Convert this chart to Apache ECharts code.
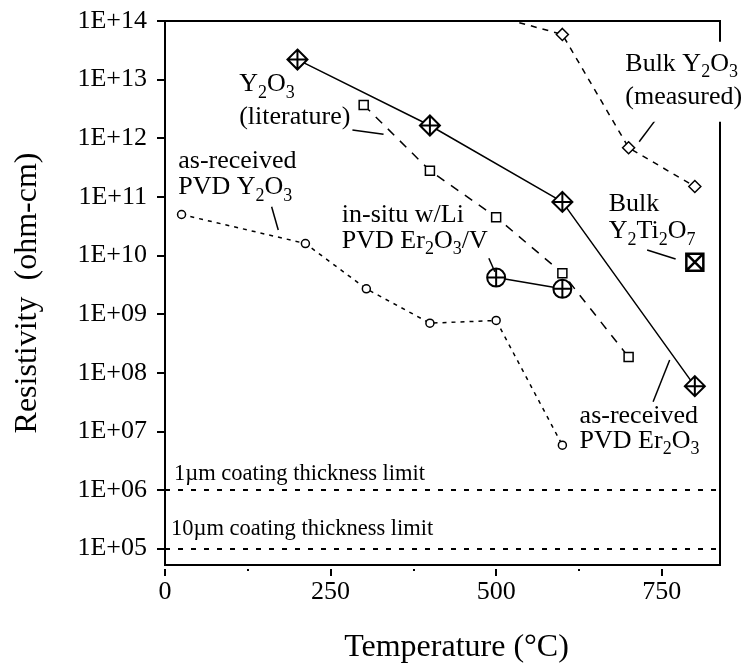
<!DOCTYPE html>
<html>
<head>
<meta charset="utf-8">
<script src="https://cdn.jsdelivr.net/npm/echarts@6/dist/echarts.min.js"></script>
<style>
  html, body { margin: 0; padding: 0; background: #fff; }
  #chart { width: 746px; height: 666px; }
</style>
</head>
<body>
<div id="chart"></div>
<script>
// Electrical resistivity (ohm-cm) of oxide coatings and bulk ceramics vs temperature (°C)
const pvdY2O3 = [[25, 5.0e10], [212, 1.6e10], [304, 2.7e9], [400, 7.0e8], [500, 7.8e8], [600, 5.8e6]];
const y2o3Literature = [[300, 3.7e12], [400, 2.8e11], [500, 4.5e10], [600, 5.0e9], [700, 1.85e8]];
const pvdEr2O3 = [[200, 2.2e13], [400, 1.65e12], [600, 8.2e10], [800, 5.9e7]];
const bulkY2O3 = [[500, 1.2e14], [600, 5.9e13], [700, 6.9e11], [800, 1.5e11]];
const inSituEr2O3 = [[500, 4.2e9], [600, 2.7e9]];
const bulkY2Ti2O7 = [[800, 7.7e9]];
const coatingLimits = [1e6, 1e5];

const xTicks = [0, 250, 500, 750];
const xMinorTicks = [125, 375, 625];
const yTicks = [1e5, 1e6, 1e7, 1e8, 1e9, 1e10, 1e11, 1e12, 1e13, 1e14];

// Annotation text: "_n" marks a subscript digit
const notes = [
  { at: [112, 5.85e12], lines: ['Y_2O_3', '(literature)'], step: 33 },
  { at: [20, 2.82e11], lines: ['as-received', 'PVD Y_2O_3'], step: 26 },
  { at: [267, 3.44e10], lines: ['in-situ w/Li', 'PVD Er_2O_3/V'], step: 26 },
  { at: [695, 1.31e13], lines: ['Bulk Y_2O_3', '(measured)'], step: 33, backdrop: true },
  { at: [670, 5.25e10], lines: ['Bulk', 'Y_2Ti_2O_7'], step: 27 },
  { at: [626, 1.28e7], lines: ['as-received', 'PVD Er_2O_3'], step: 25 },
  { at: [13.6, 1.39e6], lines: ['1µm coating thickness limit'], step: 0, small: true },
  { at: [9, 1.6e5], lines: ['10µm coating thickness limit'], step: 0, small: true }
];

// Leader lines from labels to curves
const leaders = [
  [[283, 1.38e12], [330, 1.17e12]],
  [[161, 6.8e10], [171, 2.72e10]],
  [[489, 8.95e9], [498, 5.28e9]],
  [[750, 2.84e12], [716, 8.73e11]],
  [[728, 1.24e10], [771, 8.7e9]],
  [[737, 3.2e7], [762, 1.65e8]]
];

const SERIF = 'Liberation Serif';
const BLACK = '#000';

const CROSS_DIAMOND = 'path://M10,0L20,10L10,20L0,10ZM10,0L10,20M0,10L20,10';
const CROSS_CIRCLE = 'path://M10,0A10,10,0,1,1,10,20A10,10,0,1,1,10,0ZM10,0L10,20M0,10L20,10';
const X_BOX = 'path://M0,0L20,0L20,20L0,20ZM0,0L20,20M20,0L0,20';

function lineSeries(name, data, symbol, size, border, lineType) {
  return {
    name, type: 'line', data,
    symbol, symbolSize: size, showSymbol: true,
    itemStyle: { color: '#fff', borderColor: BLACK, borderWidth: border },
    lineStyle: lineType === 'none' ? { width: 0, opacity: 0 } : { color: BLACK, width: 1.5, type: lineType },
    emphasis: { disabled: true },
    clip: true,
    z: 3
  };
}

function expLabel(v) {
  const e = Math.round(Math.log10(v));
  return '1E+' + (e < 10 ? '0' + e : String(e));
}

const chart = echarts.init(document.getElementById('chart'), null, { renderer: 'canvas' });

chart.setOption({
  animation: false,
  backgroundColor: '#fff',
  grid: {
    left: 165, top: 21, width: 555, height: 544,
    outerBoundsMode: 'none', containLabel: false,
    show: true, borderColor: BLACK, borderWidth: 2, backgroundColor: 'transparent'
  },
  xAxis: [
    {
      type: 'value', min: 0, max: 838, interval: 250, offset: 4,
      axisLine: { show: false },
      axisTick: { show: true, length: 7, customValues: xTicks, lineStyle: { color: BLACK, width: 2 } },
      axisLabel: { customValues: xTicks, fontFamily: SERIF, fontSize: 26, color: BLACK, margin: 10 },
      splitLine: { show: false },
      name: 'Temperature (°C)', nameLocation: 'middle', nameGap: 63,
      nameTextStyle: { fontFamily: SERIF, fontSize: 32, color: BLACK, padding: [0, 0, 0, 28] }
    },
    {
      type: 'value', min: 0, max: 838, interval: 250, offset: 4, position: 'bottom',
      axisLine: { show: false },
      axisTick: { show: true, length: 2, customValues: xMinorTicks, lineStyle: { color: BLACK, width: 2 } },
      axisLabel: { show: false },
      splitLine: { show: false }
    }
  ],
  yAxis: {
    type: 'log', logBase: 10, min: 5.25e4, max: 1e14, offset: 2,
    axisLine: { show: false },
    axisTick: { show: true, length: 8, customValues: yTicks, lineStyle: { color: BLACK, width: 2 } },
    axisLabel: {
      customValues: yTicks, fontFamily: SERIF, fontSize: 26, color: BLACK, margin: 16,
      formatter: v => (Math.abs(Math.log10(v) - Math.round(Math.log10(v))) < 1e-6 ? expLabel(v) : '')
    },
    splitLine: { show: false },
    name: 'Resistivity  (ohm-cm)', nameLocation: 'middle', nameGap: 119, nameRotate: 90,
    nameTextStyle: { fontFamily: SERIF, fontSize: 32, color: BLACK }
  },
  series: [
    {
      name: 'coating limits', type: 'line', data: [],
      markLine: {
        silent: true, symbol: ['none', 'none'], animation: false,
        label: { show: false },
        lineStyle: { color: BLACK, width: 2, type: [5, 8] },
        data: coatingLimits.map(v => ({ yAxis: v }))
      }
    },
    {
      name: 'leaders', type: 'line', data: [],
      markLine: {
        silent: true, symbol: ['none', 'none'], animation: false,
        label: { show: false },
        lineStyle: { color: BLACK, width: 1.5, type: 'solid' },
        data: leaders.map(([a, b]) => [{ coord: a }, { coord: b }])
      }
    },
    lineSeries('as-received PVD Y2O3', pvdY2O3, 'circle', 8, 1.5, [4, 5]),
    lineSeries('Y2O3 (literature)', y2o3Literature, 'rect', 9, 1.5, [9, 8]),
    lineSeries('Bulk Y2O3 (measured)', bulkY2O3, 'diamond', 12, 1.5, [6, 6]),
    lineSeries('as-received PVD Er2O3', pvdEr2O3, CROSS_DIAMOND, 20, 2, 'solid'),
    lineSeries('in-situ w/Li PVD Er2O3/V', inSituEr2O3, CROSS_CIRCLE, 18, 2, 'solid'),
    lineSeries('Bulk Y2Ti2O7', bulkY2Ti2O7, X_BOX, 17, 2.5, 'none')
  ]
});

// Convert "Y_2O_3" into rich-text tokens with subscripts
function toRich(s) {
  const parts = s.split(/_(\d)/);
  let out = '';
  parts.forEach((p, i) => {
    if (!p) return;
    out += (i % 2 === 0 ? '{a|' : '{s|') + p + '}';
  });
  return out;
}

function placeNotes() {
  const elements = [];
  notes.forEach(n => {
    const [px, py] = chart.convertToPixel({ gridIndex: 0 }, n.at);
    const size = n.small ? 22.5 : 26;
    const lh = n.small ? 26 : 30;
    if (n.backdrop) {
      elements.push({
        type: 'rect', z: 90,
        shape: { x: px - 4, y: py - 31, width: 130, height: 80 },
        style: { fill: '#fff' }
      });
    }
    n.lines.forEach((line, k) => {
      const base = py + k * n.step;
      elements.push({
        type: 'text', z: 100,
        x: px, y: base - (lh / 2 + size * 0.34),
        style: {
          text: toRich(line),
          align: 'left', verticalAlign: 'top',
          rich: {
            a: { fontFamily: SERIF, fontSize: size, lineHeight: lh, fill: BLACK },
            s: { fontFamily: SERIF, fontSize: Math.round(size * 0.7), lineHeight: 18, padding: [17, 0, 0, 0], fill: BLACK }
          }
        }
      });
    });
  });
  chart.setOption({ graphic: elements });
}

placeNotes();
</script>
</body>
</html>
